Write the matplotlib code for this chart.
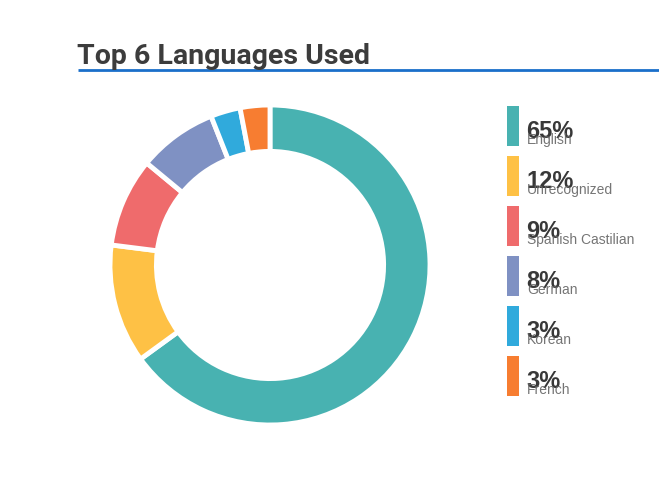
import matplotlib.pyplot as plt
from matplotlib.patches import Rectangle

# -----------------------------
# Data
# -----------------------------
languages = ["English", "Unrecognized", "Spanish Castilian", "German", "Korean", "French"]
shares = [65, 12, 9, 8, 3, 3]
colors = ["#48b2b1", "#fec145", "#ef6b6c", "#7f91c3", "#30aadc", "#f77d31"]
title = "Top 6 Languages Used"

W, H = 659, 481
fig = plt.figure(figsize=(W / 100, H / 100), dpi=100)

# overlay axes in pixel coords for title / legend
ov = fig.add_axes([0, 0, 1, 1])
ov.set_xlim(0, W)
ov.set_ylim(H, 0)
ov.axis("off")

ov.text(77, 64, title, fontsize=20.5, fontweight="bold", family="Roboto",
        color="#3c3c3c", va="baseline", ha="left")
ov.plot([78, W], [71, 71], color="#1a6fca", lw=2, solid_capstyle="butt")

# donut
cx, cy, R = 270, 266, 160
ax = fig.add_axes([(cx - R) / W, (H - cy - R) / H, 2 * R / W, 2 * R / H])
ax.pie(shares, colors=colors, startangle=90, counterclock=False, radius=1.0,
       wedgeprops=dict(width=0.29, edgecolor="white", linewidth=3.5,
                       joinstyle="round"))
ax.set_xlim(-1, 1)
ax.set_ylim(-1, 1)
ax.set_aspect("equal")
ax.axis("off")

# legend
for i, (lang, s, c) in enumerate(zip(languages, shares, colors)):
    y0 = 107 + i * 50
    ov.add_patch(Rectangle((507, y0), 12, 40, color=c, lw=0))
    ov.text(526, y0 + 31, f"{s}%", fontsize=17, fontweight="bold",
            family="Liberation Sans", color="#383838", va="baseline", ha="left")
    ov.text(527, y0 + 37, lang, fontsize=10, family="Liberation Sans",
            color="#666666", alpha=0.9, va="baseline", ha="left")

fig.savefig("out.png", dpi=100)
